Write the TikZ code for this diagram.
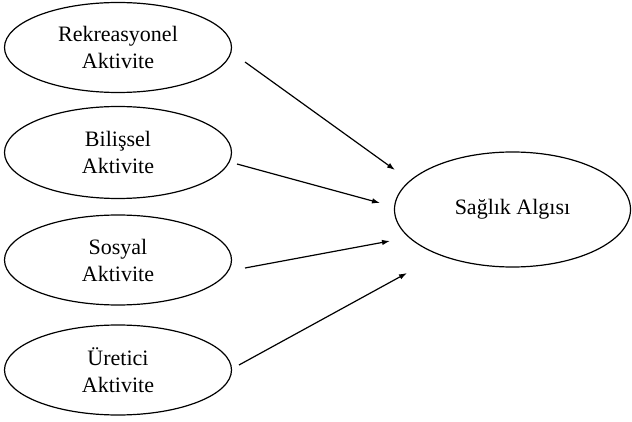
\documentclass[tikz,border=0pt]{standalone}
\usepackage{fontspec}
\setmainfont{Liberation Serif}
\usetikzlibrary{shapes.geometric,arrows.meta}
\begin{document}
\begin{tikzpicture}[x=1pt,y=-1pt,
  oval/.style={draw, line width=1.2pt, ellipse, inner sep=0pt, minimum width=227pt, minimum height=90pt,
    align=center, font=\fontsize{22}{27}\selectfont},
  conn/.style={line width=1.2pt, -{Latex[length=8pt,width=5.5pt]}}]
\useasboundingbox (0,0) rectangle (632,422);
\node[oval] (rek) at (118,47.5) {Rekreasyonel\\Aktivite};
\node[oval, minimum height=92pt] (bil) at (118,152.5) {Bilişsel\\Aktivite};
\node[oval] (sos) at (118,260) {Sosyal\\Aktivite};
\node[oval] (ure) at (118,370) {Üretici\\Aktivite};
\node[oval, minimum width=236pt, minimum height=115pt] (sag) at (512.5,209.5) {Sağlık Algısı};
\coordinate (s1) at (245,62);  \coordinate (e1) at (395,170);
\coordinate (s2) at (237,164); \coordinate (e2) at (380,203);
\coordinate (s3) at (245,268); \coordinate (e3) at (390,241);
\coordinate (s4) at (239,365); \coordinate (e4) at (407,273);
\draw[conn] (s1) -- (e1);
\draw[conn] (s2) -- (e2);
\draw[conn] (s3) -- (e3);
\draw[conn] (s4) -- (e4);
\end{tikzpicture}
\end{document}
